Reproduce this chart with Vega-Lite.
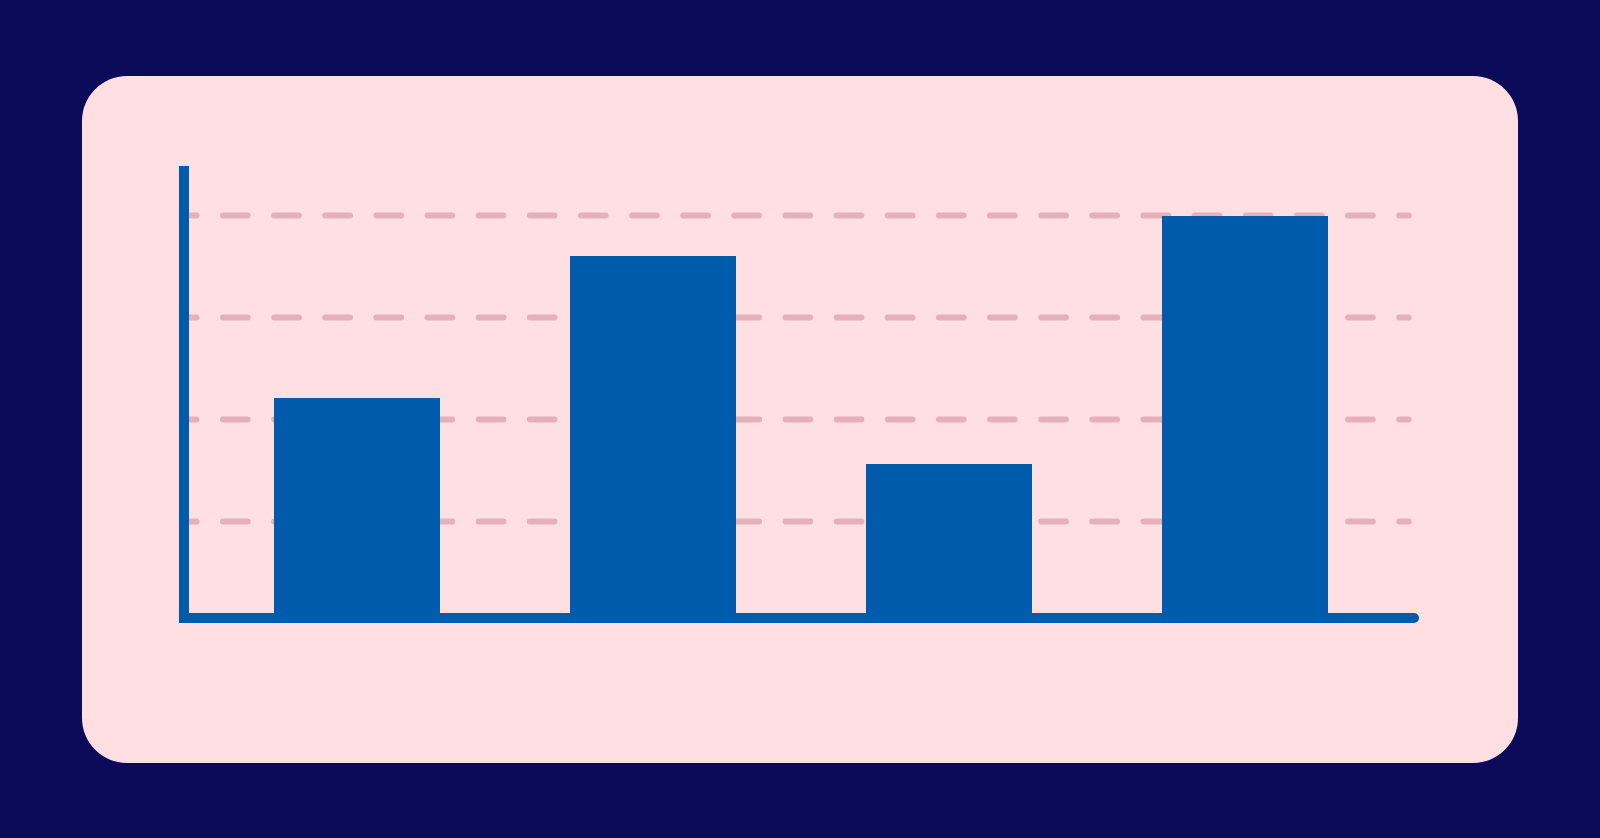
{
  "$schema": "https://vega.github.io/schema/vega-lite/v6.json",
  "width": 1436,
  "height": 687,
  "autosize": "none",
  "padding": {"left": 82, "top": 76, "right": 82, "bottom": 75},
  "background": "#0b0b5a",
  "config": {
    "view": {"fill": "#ffdfe2", "stroke": null, "cornerRadius": 45},
    "scale": {"continuousPadding": 0}
  },
  "datasets": {
    "bars": [
      {"i": 1, "value": 55.3},
      {"i": 2, "value": 90.1},
      {"i": 3, "value": 39.1},
      {"i": 4, "value": 99.9}
    ],
    "grid": [
      {"g": 25},
      {"g": 50},
      {"g": 75},
      {"g": 100}
    ]
  },
  "layer": [
    {
      "data": {"name": "grid"},
      "mark": {
        "type": "rule",
        "color": "#e3b1b7",
        "strokeWidth": 6,
        "strokeCap": "round",
        "strokeDash": [24.7, 26.44],
        "strokeDashOffset": 12.14
      },
      "encoding": {
        "y": {"field": "g", "type": "quantitative", "axis": null,
              "scale": {"domain": [-34.19, 134.19], "nice": false, "zero": false, "padding": 0}},
        "x": {"datum": 0.4155, "type": "quantitative", "axis": null,
              "scale": {"domain": [0.07095, 4.9223], "nice": false, "zero": false, "padding": 0}},
        "x2": {"datum": 4.553}
      }
    },
    {
      "data": {"name": "bars"},
      "mark": {"type": "bar", "color": "#005caa", "width": 166},
      "encoding": {
        "x": {"field": "i", "type": "quantitative", "axis": null,
              "scale": {"domain": [0.07095, 4.9223], "nice": false, "zero": false, "padding": 0}},
        "y": {"field": "value", "type": "quantitative", "axis": null,
              "scale": {"domain": [-34.19, 134.19], "nice": false, "zero": false, "padding": 0}},
        "y2": {"datum": 1.35}
      }
    },
    {
      "data": {"values": [{}]},
      "mark": {"type": "rule", "color": "#005caa", "strokeWidth": 10, "strokeCap": "round"},
      "encoding": {
        "x": {"datum": 0.4155, "type": "quantitative", "axis": null},
        "x2": {"datum": 4.5709},
        "y": {"datum": 1.35, "type": "quantitative", "axis": null}
      }
    },
    {
      "data": {"values": [{}]},
      "mark": {"type": "rule", "color": "#005caa", "strokeWidth": 10, "strokeCap": "butt"},
      "encoding": {
        "x": {"datum": 0.4155, "type": "quantitative", "axis": null},
        "y": {"datum": 112.13, "type": "quantitative", "axis": null},
        "y2": {"datum": 0.12}
      }
    }
  ]
}
